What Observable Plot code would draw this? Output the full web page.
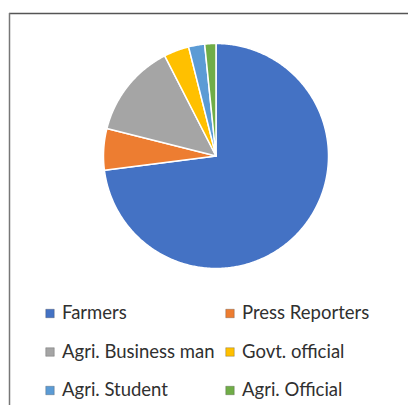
<!DOCTYPE html>
<html>
<head>
<meta charset="utf-8">
<script src="https://cdn.jsdelivr.net/npm/d3@7"></script>
<script src="https://cdn.jsdelivr.net/npm/@observablehq/plot@0.6"></script>
<style>
  html, body { margin: 0; padding: 0; background: #fff; }
  #chart svg { display: block; }
</style>
</head>
<body>
<div id="chart"></div>
<script>
const categories = ["Farmers", "Press Reporters", "Agri. Business man", "Govt. official", "Agri. Student", "Agri. Official"];
const values = [72.7, 5.9, 13.5, 3.6, 2.3, 1.6];
const colors = ["#4472C4", "#ED7D31", "#A5A5A5", "#FFC000", "#5B9BD5", "#70AD47"];

const W = 408, H = 405;
const cx = 215.5, cy = 155.5, R = 112.5;

const data = categories.map((name, i) => ({name, value: values[i]}));
const arcs = d3.pie().sort(null).value(d => d.value).startAngle(0).endAngle(2 * Math.PI)(data);

// polygon outline for each slice, in the chart's coordinate space
const slicePts = [];
for (const a of arcs) {
  const name = a.data.name;
  slicePts.push({name, x: cx, y: cy});
  const n = Math.max(4, Math.ceil((a.endAngle - a.startAngle) / 0.01));
  for (let k = 0; k <= n; k++) {
    const t = a.startAngle + (a.endAngle - a.startAngle) * k / n;
    slicePts.push({name, x: cx + R * Math.sin(t), y: cy - R * Math.cos(t)});
  }
}

const legend = categories.map((name, i) => ({
  name,
  lx: i % 2 === 0 ? 49.5 : 229.5,
  ly: 313 + Math.floor(i / 2) * 38.5
}));

const chart = Plot.plot({
  width: W,
  height: H,
  margin: 0,
  x: {domain: [0, W], range: [0, W], axis: null},
  y: {domain: [0, H], range: [0, H], axis: null},
  color: {domain: categories, range: colors},
  style: {background: "#fff"},
  marks: [
    Plot.ruleY([13], {x1: 9, x2: W, stroke: "#555", strokeWidth: 1.5}),
    Plot.ruleX([9], {y1: 13, y2: H, stroke: "#777", strokeWidth: 1.5}),
    Plot.line(slicePts, {x: "x", y: "y", z: "name", fill: "name", stroke: "white", strokeWidth: 1.5, curve: "linear-closed", strokeLinejoin: "round"}),
    Plot.dot(legend, {x: "lx", y: "ly", symbol: "square", r: 4.8, fill: "name", stroke: "#333", strokeOpacity: 0.35, strokeWidth: 0.8}),
    Plot.text(legend, {x: "lx", y: "ly", text: "name", textAnchor: "start", dx: 12, fontSize: 18.5, fontFamily: "Lato, 'Open Sans', sans-serif", fill: "#303030"})
  ]
});
document.getElementById("chart").appendChild(chart);
</script>
</body>
</html>
